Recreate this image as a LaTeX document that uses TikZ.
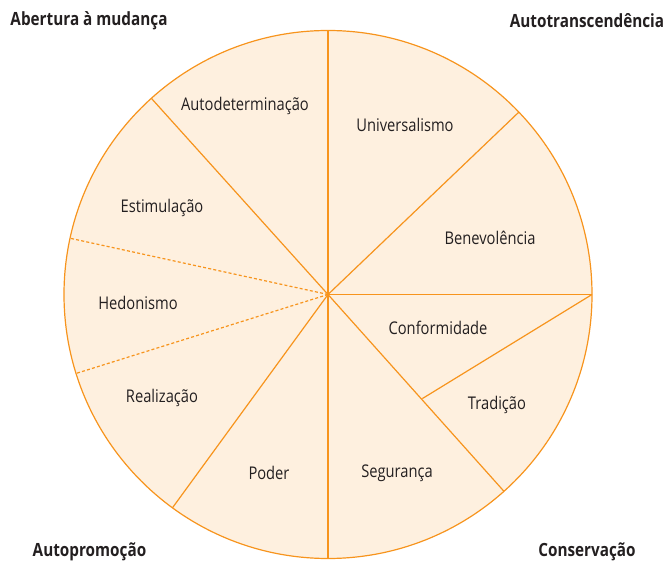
\documentclass[tikz,border=0pt]{standalone}
\usepackage{fontspec}
\setmainfont[FakeStretch=0.84]{Open Sans}
\usetikzlibrary{calc}
\definecolor{lineor}{HTML}{F7941D}
\definecolor{fillor}{HTML}{FEF0DF}
\definecolor{txt}{HTML}{231F20}
\tikzset{
  seg/.style={draw=lineor, line width=1.2pt},
  dseg/.style={draw=lineor, line width=1.2pt, dash pattern=on 3pt off 2.2pt},
  lbl/.style={text=txt, font=\fontsize{17.5}{19}\selectfont, inner sep=0pt},
  grp/.style={text=txt, font=\fontsize{18.2}{20}\selectfont\bfseries, inner sep=0pt}
}
\begin{document}
\begin{tikzpicture}[x=1pt,y=1pt]
\useasboundingbox (0,0) rectangle (667,560);
\coordinate (c) at (328,265.5);
\def\R{264}
\fill[fillor] (c) circle (\R);
\coordinate (pu) at ($(c)+(90:\R)$);
\coordinate (pul) at ($(c)+(132:\R)$);
\coordinate (pdu) at ($(c)+(167.7:\R)$);
\coordinate (pdl) at ($(c)+(197.4:\R)$);
\coordinate (pll) at ($(c)+(233.9:\R)$);
\coordinate (pd) at ($(c)+(270:\R)$);
\coordinate (plr) at ($(c)+(311.8:\R)$);
\coordinate (pr) at ($(c)+(0:\R)$);
\coordinate (pur) at ($(c)+(43.7:\R)$);
\coordinate (pch) at ($(c)+(312.2:140.5)$);
\draw[seg] (c) -- (pu);
\draw[seg] (c) -- (pul);
\draw[dseg] (c) -- (pdu);
\draw[dseg] (c) -- (pdl);
\draw[seg] (c) -- (pll);
\draw[seg] (c) -- (pd);
\draw[seg] (c) -- (plr);
\draw[seg] (c) -- (pr);
\draw[seg] (c) -- (pur);
\draw[seg] (pr) -- (pch);
\draw[seg] (c) circle (\R);
\fill[lineor] (c) circle (1.6pt);
\node[grp] (g1) at (89,539) {Abertura à mudança};
\node[grp] (g2) at (587,539) {Autotranscendência};
\node[grp] (g3) at (89.5,8) {Autopromoção};
\node[grp] (g4) at (587,8) {Conservação};
\node[lbl] (v1) at (245,454) {Autodeterminação};
\node[lbl] (v2) at (405,435) {Universalismo};
\node[lbl] (v3) at (162,352) {Estimulação};
\node[lbl] (v4) at (490,322) {Benevolência};
\node[lbl] (v5) at (138,257) {Hedonismo};
\node[lbl] (v6) at (438,232) {Conformidade};
\node[lbl] (v7) at (162,162) {Realização};
\node[lbl] (v8) at (497,155) {Tradição};
\node[lbl] (v9) at (269,87) {Poder};
\node[lbl] (v10) at (397,87) {Segurança};
\end{tikzpicture}
\end{document}
